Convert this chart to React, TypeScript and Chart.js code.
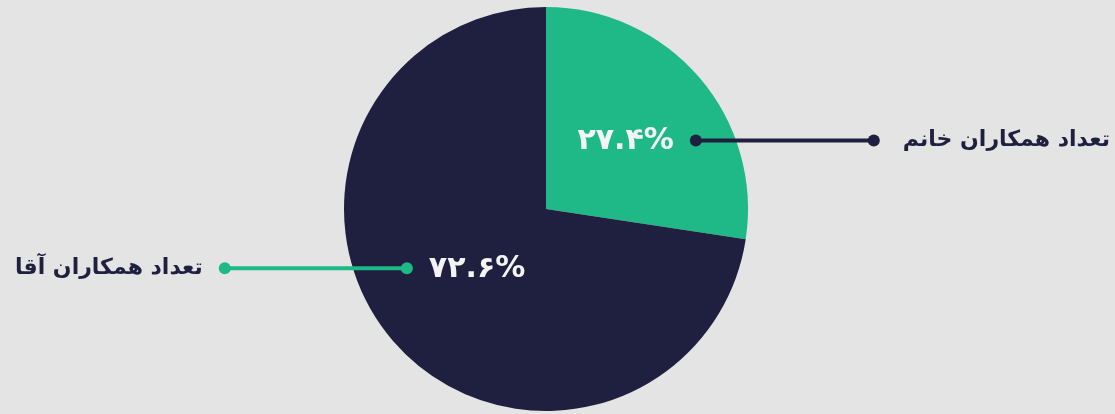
import React, { useEffect, useRef } from "react";
import { Chart, registerables } from "chart.js";

Chart.register(...registerables);

const categories = ["تعداد همکاران خانم", "تعداد همکاران آقا"];
const shares = [27.4, 72.6];
const sliceColors = ["#1fb987", "#1f1f3f"];
const leaderColors = ["#1f1f3f", "#1fb987"];

const BG = "#e4e4e4";
const persianDigits = "۰۱۲۳۴۵۶۷۸۹";
const toPersian = (v: number) =>
  v.toFixed(1).replace(/\d/g, (d) => persianDigits[Number(d)]) + "%";

const labelPlugin = {
  id: "leaderLabels",
  afterDatasetsDraw(chart: any) {
    const ctx = chart.ctx as CanvasRenderingContext2D;
    const meta = chart.getDatasetMeta(0);
    const W = chart.width;
    meta.data.forEach((arc: any, i: number) => {
      const p = arc.getProps(["x", "y", "startAngle", "endAngle", "outerRadius"], true);
      const mid = (p.startAngle + p.endAngle) / 2;
      const fr = i === 0 ? 0.52 : 0.45;
      const px = p.x + Math.cos(mid) * p.outerRadius * fr;
      const py = p.y + Math.sin(mid) * p.outerRadius * fr;
      const right = Math.cos(mid) >= 0;
      ctx.save();
      // percentage text
      ctx.font = "bold 30px 'DejaVu Sans'";
      ctx.fillStyle = "#f4f4f4";
      ctx.textAlign = "center";
      ctx.textBaseline = "middle";
      const pct = toPersian(shares[i]);
      const pw = ctx.measureText(pct).width;
      ctx.fillText(pct, px, py + 1);
      // label text
      ctx.font = "bold 22px 'DejaVu Sans'";
      const lw = ctx.measureText(categories[i]).width;
      let d1: number, d2: number, tx: number;
      if (right) {
        d1 = px + pw / 2 + 22;
        tx = W - 5;
        d2 = tx - lw - 29;
        ctx.textAlign = "right";
      } else {
        d1 = px - pw / 2 - 22;
        tx = 15;
        d2 = tx + lw + 22;
        ctx.textAlign = "left";
      }
      ctx.fillStyle = "#1f1f3f";
      ctx.fillText(categories[i], tx, py);
      // leader line
      ctx.strokeStyle = leaderColors[i];
      ctx.lineWidth = 4;
      ctx.beginPath();
      ctx.moveTo(d1, py);
      ctx.lineTo(d2, py);
      ctx.stroke();
      ctx.fillStyle = leaderColors[i];
      [d1, d2].forEach((dx) => {
        ctx.beginPath();
        ctx.arc(dx, py, 6, 0, Math.PI * 2);
        ctx.fill();
      });
      ctx.restore();
    });
  },
};

export default function App() {
  const ref = useRef<HTMLCanvasElement>(null);
  useEffect(() => {
    if (!ref.current) return;
    const chart = new Chart(ref.current, {
      type: "pie",
      data: {
        labels: categories,
        datasets: [
          {
            data: shares,
            backgroundColor: sliceColors,
            borderWidth: 0,
          },
        ],
      },
      options: {
        animation: false,
        responsive: false,
        maintainAspectRatio: false,
        layout: { padding: { top: 7, bottom: 3, left: 0, right: 23 } },
        plugins: {
          legend: { display: false },
          tooltip: { enabled: false },
        },
      },
      plugins: [labelPlugin],
    });
    return () => chart.destroy();
  }, []);
  return (
    <div style={{ position: "fixed", left: 0, top: 0, width: 1115, height: 414, background: BG }}>
      <canvas ref={ref} width={1115} height={414} style={{ width: 1115, height: 414 }} />
    </div>
  );
}
